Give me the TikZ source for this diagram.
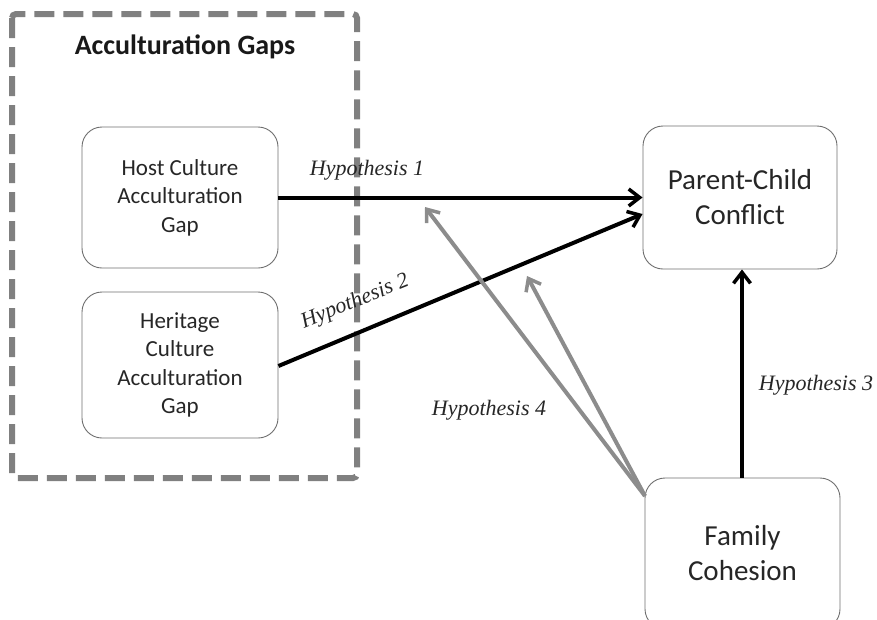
\documentclass[tikz,border=0pt]{standalone}
\usepackage{fontspec}
\setmainfont{Carlito}
\newfontfamily\hypfont{Liberation Serif}
\usetikzlibrary{arrows.meta}
\definecolor{dashgray}{RGB}{128,128,128}
\definecolor{arrgray}{RGB}{140,140,140}
\definecolor{boxline}{RGB}{110,110,110}
\tikzset{
  rbox/.style={draw=boxline, line width=0.9pt, rounded corners=20pt, align=center, inner sep=0pt, text=black!85},
  smalltext/.style={font=\fontsize{23}{28.5}\selectfont},
  bigtext/.style={font=\fontsize{29}{35}\selectfont},
  hyp/.style={font=\hypfont\itshape\fontsize{22}{24}\selectfont, text=black!85, inner sep=0pt},
  blackarrow/.style={line width=4pt, -{Straight Barb[length=11pt,width=17pt,line width=3.5pt]}},
  grayarrow/.style={line width=4pt, arrgray, -{Straight Barb[length=11pt,width=17pt,line width=3.5pt]}},
}
\begin{document}
\begin{tikzpicture}[x=1pt,y=-1pt]
\useasboundingbox (0,0) rectangle (877,619);
\begin{scope}
\clip (0,0) rectangle (877,619);
% dashed group box
\draw[dashgray, line width=6pt, dash pattern=on 20pt off 9pt, rounded corners=4pt] (12,14) rectangle (357,478);
\node[font=\bfseries\fontsize{28}{32}\selectfont, inner sep=0pt, text=black!90] (title) at (185,47) {Acculturation Gaps};
% boxes
\node[rbox, smalltext, minimum width=196pt, minimum height=141pt] (host) at (180,197.5) {Host Culture\\Acculturation\\Gap};
\node[rbox, smalltext, minimum width=196pt, minimum height=146pt] (her) at (180,365) {Heritage\\Culture\\Acculturation\\Gap};
\node[rbox, bigtext, minimum width=194pt, minimum height=143pt] (pc) at (740,197.5) {Parent-Child\\Conflict};
\node[rbox, bigtext, minimum width=195pt, minimum height=151pt] (fc) at (742.5,553.5) {Family\\Cohesion};
% anchor coordinates
\coordinate (h2s) at (her.east |- 0,366);
\coordinate (h2e) at (pc.west |- 0,214);
\coordinate (h4s) at (645,496);
\coordinate (h4a) at (425,207);
\coordinate (h4b) at (527,276);
\coordinate (h3s) at (742,478);
% arrows
\draw[blackarrow] (host.east) -- (pc.west);
\draw[blackarrow] (h2s) -- (h2e);
\draw[blackarrow] (fc.north -| h3s) -- (pc.south -| h3s);
\draw[grayarrow] (h4s) -- (h4a);
\draw[grayarrow] (h4s) -- (h4b);
% labels
\node[hyp] (l1) at (367,170) {Hypothesis 1};
\node[hyp, rotate=22] (l2) at (355,302) {Hypothesis 2};
\node[hyp] (l3) at (816,385) {Hypothesis 3};
\node[hyp] (l4) at (489,410) {Hypothesis 4};
\end{scope}
\end{tikzpicture}
\end{document}
